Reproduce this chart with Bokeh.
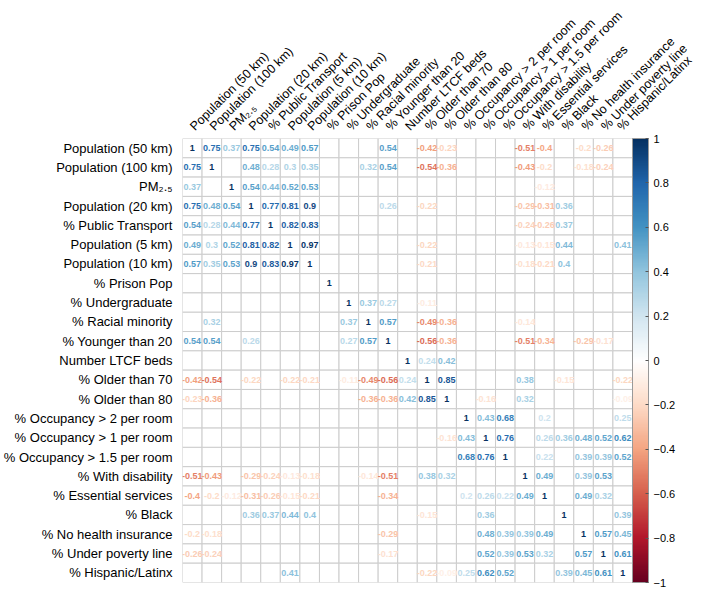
import numpy as np
from bokeh.plotting import figure
from bokeh.models import (ColumnDataSource, LinearColorMapper, ColorBar, FixedTicker,
                          CustomJSTickFormatter, FactorRange)
from bokeh.transform import transform
from bokeh.core.properties import value
from bokeh.embed import file_html
from bokeh.resources import INLINE

variables = ["Population (50 km)", "Population (100 km)", "PM\u2082.\u2085", "Population (20 km)",
             "% Public Transport", "Population (5 km)", "Population (10 km)", "% Prison Pop",
             "% Undergraduate", "% Racial minority", "% Younger than 20", "Number LTCF beds",
             "% Older than 70", "% Older than 80", "% Occupancy > 2 per room",
             "% Occupancy > 1 per room", "% Occupancy > 1.5 per room", "% With disability",
             "% Essential services", "% Black", "% No health insurance", "% Under poverty line",
             "% Hispanic/Latinx"]

N = None
r_pop50 = [1, 0.75, 0.37, 0.75, 0.54, 0.49, 0.57, N, N, N, 0.54, N, -0.42, -0.23, N, N, N, -0.51, -0.4, N, -0.2, -0.26, N]
r_pop100 = [0.75, 1, N, 0.48, 0.28, 0.3, 0.35, N, N, 0.32, 0.54, N, -0.54, -0.36, N, N, N, -0.43, -0.2, N, -0.18, -0.24, N]
r_pm25 = [0.37, N, 1, 0.54, 0.44, 0.52, 0.53, N, N, N, N, N, N, N, N, N, N, N, -0.12, N, N, N, N]
r_pop20 = [0.75, 0.48, 0.54, 1, 0.77, 0.81, 0.9, N, N, N, 0.26, N, -0.22, N, N, N, N, -0.29, -0.31, 0.36, N, N, N]
r_transport = [0.54, 0.28, 0.44, 0.77, 1, 0.82, 0.83, N, N, N, N, N, N, N, N, N, N, -0.24, -0.26, 0.37, N, N, N]
r_pop5 = [0.49, 0.3, 0.52, 0.81, 0.82, 1, 0.97, N, N, N, N, N, -0.22, N, N, N, N, -0.13, -0.15, 0.44, N, N, 0.41]
r_pop10 = [0.57, 0.35, 0.53, 0.9, 0.83, 0.97, 1, N, N, N, N, N, -0.21, N, N, N, N, -0.18, -0.21, 0.4, N, N, N]
r_prison = [N, N, N, N, N, N, N, 1, N, N, N, N, N, N, N, N, N, N, N, N, N, N, N]
r_undergrad = [N, N, N, N, N, N, N, N, 1, 0.37, 0.27, N, -0.11, N, N, N, N, N, N, N, N, N, N]
r_minority = [N, 0.32, N, N, N, N, N, N, 0.37, 1, 0.57, N, -0.49, -0.36, N, N, N, -0.14, N, N, N, N, N]
r_young = [0.54, 0.54, N, 0.26, N, N, N, N, 0.27, 0.57, 1, N, -0.56, -0.36, N, N, N, -0.51, -0.34, N, -0.29, -0.17, N]
r_ltcf = [N, N, N, N, N, N, N, N, N, N, N, 1, 0.24, 0.42, N, N, N, N, N, N, N, N, N]
r_old70 = [-0.42, -0.54, N, -0.22, N, -0.22, -0.21, N, -0.11, -0.49, -0.56, 0.24, 1, 0.85, N, N, N, 0.38, N, -0.15, N, N, -0.22]
r_old80 = [-0.23, -0.36, N, N, N, N, N, N, N, -0.36, -0.36, 0.42, 0.85, 1, N, -0.16, N, 0.32, N, N, N, N, -0.09]
r_occ2 = [N, N, N, N, N, N, N, N, N, N, N, N, N, N, 1, 0.43, 0.68, N, 0.2, N, N, N, 0.25]
r_occ1 = [N, N, N, N, N, N, N, N, N, N, N, N, N, -0.16, 0.43, 1, 0.76, N, 0.26, 0.36, 0.48, 0.52, 0.62]
r_occ15 = [N, N, N, N, N, N, N, N, N, N, N, N, N, N, 0.68, 0.76, 1, N, 0.22, N, 0.39, 0.39, 0.52]
r_disab = [-0.51, -0.43, N, -0.29, -0.24, -0.13, -0.18, N, N, -0.14, -0.51, N, 0.38, 0.32, N, N, N, 1, 0.49, N, 0.39, 0.53, N]
r_essential = [-0.4, -0.2, -0.12, -0.31, -0.26, -0.15, -0.21, N, N, N, -0.34, N, N, N, 0.2, 0.26, 0.22, 0.49, 1, N, 0.49, 0.32, N]
r_black = [N, N, N, 0.36, 0.37, 0.44, 0.4, N, N, N, N, N, -0.15, N, N, 0.36, N, N, N, 1, N, N, 0.39]
r_noins = [-0.2, -0.18, N, N, N, N, N, N, N, N, -0.29, N, N, N, N, 0.48, 0.39, 0.39, 0.49, N, 1, 0.57, 0.45]
r_poverty = [-0.26, -0.24, N, N, N, N, N, N, N, N, -0.17, N, N, N, N, 0.52, 0.39, 0.53, 0.32, N, 0.57, 1, 0.61]
r_hisp = [N, N, N, N, N, 0.41, N, N, N, N, N, N, -0.22, -0.09, 0.25, 0.62, 0.52, N, N, 0.39, 0.45, 0.61, 1]

rows = [r_pop50, r_pop100, r_pm25, r_pop20, r_transport, r_pop5, r_pop10, r_prison,
        r_undergrad, r_minority, r_young, r_ltcf, r_old70, r_old80, r_occ2, r_occ1, r_occ15,
        r_disab, r_essential, r_black, r_noins, r_poverty, r_hisp]

cbar_ticks = [-1, -0.8, -0.6, -0.4, -0.2, 0, 0.2, 0.4, 0.6, 0.8, 1]

for r in rows:
    assert len(r) == len(variables)

# RdBu diverging palette (corrplot COL2 style), interpolated
anchors = ["#67001F", "#B2182B", "#D6604D", "#F4A582", "#FDDBC7", "#FFFFFF",
           "#D1E5F0", "#92C5DE", "#4393C3", "#2166AC", "#053061"]
arr = np.array([[int(c[i:i + 2], 16) for i in (1, 3, 5)] for c in anchors], dtype=float)
pos = np.linspace(0, 1, len(anchors))
t = np.linspace(0, 1, 200)
palette = ["#%02x%02x%02x" % tuple(int(round(np.interp(tt, pos, arr[:, k]))) for k in range(3)) for tt in t]

gx, gy, tx, ty, tv, tl = [], [], [], [], [], []
for i, row in enumerate(rows):
    for j, v in enumerate(row):
        gx.append(variables[j])
        gy.append(variables[i])
        if v is not None:
            tx.append(variables[j])
            ty.append(variables[i])
            tv.append(v)
            tl.append(f"{v:g}")

grid_src = ColumnDataSource(dict(x=gx, y=gy))
txt_src = ColumnDataSource(dict(x=tx, y=ty, r=tv, label=tl))

mapper = LinearColorMapper(palette=palette, low=-1, high=1)

p = figure(x_range=FactorRange(factors=variables), y_range=FactorRange(factors=variables[::-1]),
           frame_width=450, frame_height=444, x_axis_location="above",
           output_backend="svg", toolbar_location=None, min_border=0,
           min_border_bottom=8, min_border_right=62)
p.outline_line_color = None
p.xgrid.visible = False
p.ygrid.visible = False

p.rect(x="x", y="y", width=1, height=1, source=grid_src, fill_color="white",
       line_color="#cccccc", line_width=1)
p.text(x="x", y="y", text="label", source=txt_src, text_font=value("Liberation Sans"),
       text_font_size="9px", text_font_style="bold", text_align="center",
       text_baseline="middle", text_color=transform("r", mapper))

for ax in (p.xaxis[0], p.yaxis[0]):
    ax.axis_line_color = None
    ax.major_tick_line_color = None
    ax.minor_tick_line_color = None
    ax.major_label_text_font = "Liberation Sans"
    ax.major_label_text_color = "#000000"
    ax.major_label_standoff = 4
p.yaxis.major_label_text_font_size = "13px"
p.xaxis.major_label_text_font_size = "12.5px"
p.xaxis.major_label_orientation = np.pi / 4

cb = ColorBar(color_mapper=mapper, ticker=FixedTicker(ticks=cbar_ticks),
              formatter=CustomJSTickFormatter(code="return tick < 0 ? '\\u2212' + Math.abs(tick) : String(tick);"),
              width=16, margin=8, padding=0,
              major_label_text_font="Liberation Sans", major_label_text_font_size="11px",
              major_label_text_color="#000000",
              major_tick_line_color="#555555", major_tick_in=3, major_tick_out=0,
              bar_line_color="#999999", border_line_color=None, background_fill_color=None)
p.add_layout(cb, "right")

open("out.html", "w").write(file_html(p, INLINE))
